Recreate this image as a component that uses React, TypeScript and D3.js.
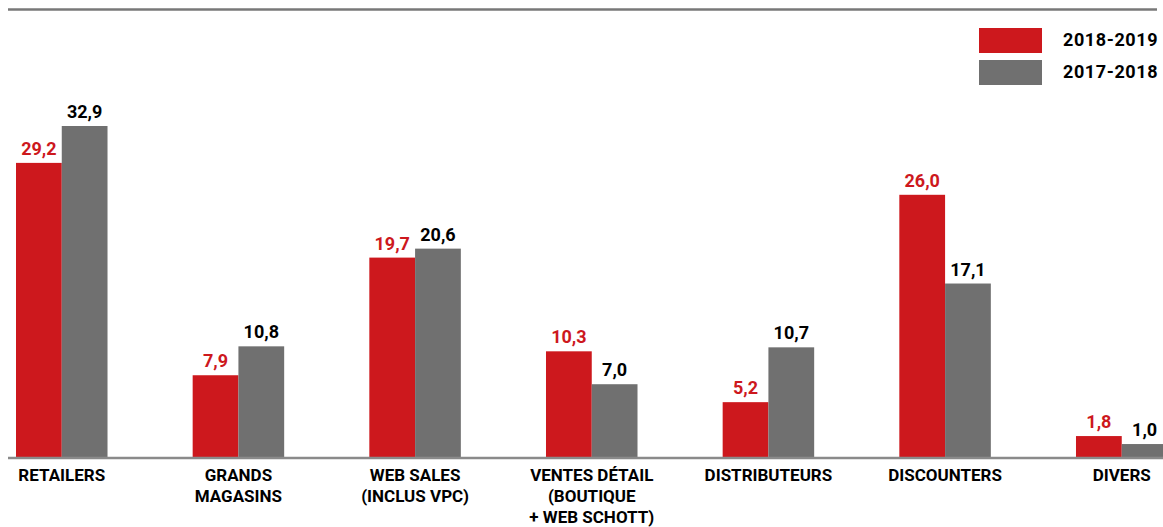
import React, { useEffect } from "react";
import * as d3 from "d3";

const categories: string[][] = [
  ["RETAILERS"],
  ["GRANDS", "MAGASINS"],
  ["WEB SALES", "(INCLUS VPC)"],
  ["VENTES DÉTAIL", "(BOUTIQUE", "+ WEB SCHOTT)"],
  ["DISTRIBUTEURS"],
  ["DISCOUNTERS"],
  ["DIVERS"],
];
const series2019: number[] = [29.2, 7.9, 19.7, 10.3, 5.2, 26.0, 1.8];
const series2018: number[] = [32.9, 10.8, 20.6, 7.0, 10.7, 17.1, 1.0];
const seriesNames: string[] = ["2018-2019", "2017-2018"];

const RED = "#CD181D";
const GRAY = "#707070";
const W = 1163;
const H = 527;
const FONT = "Roboto, 'Noto Sans', sans-serif";

export default function App() {
  useEffect(() => {
    document.body.style.margin = "0";
    document.body.style.overflow = "hidden";
  }, []);

  const keys = categories.map((c) => c.join(" "));
  const x0 = d3.scaleBand<string>().domain(keys).range([16, 1167.5]).paddingInner(0.482).paddingOuter(0);
  const x1 = d3.scaleBand<string>().domain(seriesNames).range([0, x0.bandwidth()]).padding(0);
  const y = d3.scaleLinear().domain([-0.3, 32.9]).range([457, 126]);
  const fmt = (v: number) => d3.format(".1f")(v).replace(".", ",");

  const seriesList = [
    { name: seriesNames[0], values: series2019, fill: RED, labelColor: RED },
    { name: seriesNames[1], values: series2018, fill: GRAY, labelColor: "#000" },
  ];

  return (
    <svg width={W} height={H} style={{ display: "block" }} fontFamily={FONT}>
      <rect x={0} y={0} width={W} height={H} fill="#fff" />
      <line x1={8} x2={1157} y1={9.5} y2={9.5} stroke="#787878" strokeWidth={2.5} />

      {seriesList.map((s) => (
        <g key={s.name}>
          {s.values.map((v, i) => {
            const bx = (x0(keys[i]) ?? 0) + (x1(s.name) ?? 0);
            const top = y(v);
            return (
              <g key={i}>
                <rect x={bx} y={top} width={x1.bandwidth()} height={y(-0.3) - top} fill={s.fill} />
                <text
                  x={bx + x1.bandwidth() / 2}
                  y={top - 8}
                  textAnchor="middle"
                  fontSize={18}
                  fontWeight={700}
                  fill={s.labelColor}
                >
                  {fmt(v)}
                </text>
              </g>
            );
          })}
        </g>
      ))}

      <line x1={8} x2={W} y1={458} y2={458} stroke="#8a8a8a" strokeWidth={2.5} />

      {categories.map((lines, i) => {
        const cx = (x0(keys[i]) ?? 0) + x0.bandwidth() / 2;
        return (
          <text key={i} textAnchor="middle" fontSize={17} fontWeight={700} fill="#000">
            {lines.map((ln, j) => (
              <tspan key={j} x={cx} y={481 + j * 21}>
                {ln}
              </tspan>
            ))}
          </text>
        );
      })}

      {seriesList.map((s, i) => (
        <g key={s.name} transform={`translate(979, ${28 + i * 32})`}>
          <rect x={0} y={0} width={63} height={25} fill={s.fill} />
          <text x={84} y={18} fontSize={18} fontWeight={700} letterSpacing={0.6} fill="#000">
            {s.name}
          </text>
        </g>
      ))}
    </svg>
  );
}
